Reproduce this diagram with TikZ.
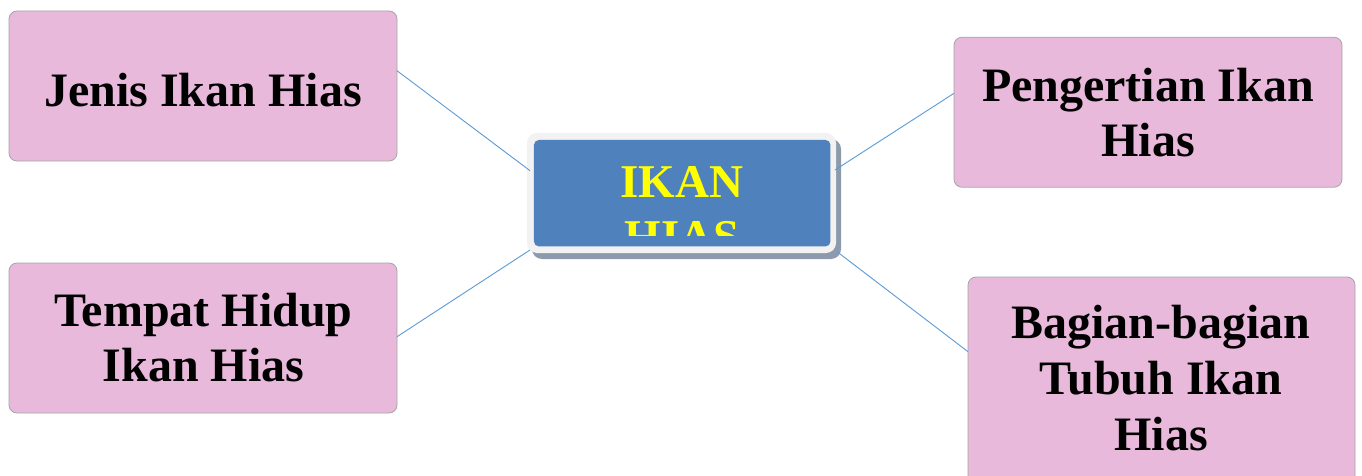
\documentclass[tikz,border=0pt]{standalone}
\usepackage{fontspec}
\setmainfont{Liberation Serif}
\usetikzlibrary{shadows}
\definecolor{pinkfill}{HTML}{E8B9DA}
\definecolor{pinkline}{HTML}{A6A6A6}
\definecolor{cblue}{HTML}{4F81BD}
\definecolor{cframecol}{HTML}{F2F2F2}
\definecolor{cshadow}{HTML}{8C9AAB}
\definecolor{linkblue}{HTML}{5B9BD5}
\definecolor{ctextcol}{HTML}{FFFF00}
\newcommand\leaffont{\fontsize{48}{55}\selectfont\bfseries}
\newcommand\leaffontb{\fontsize{48}{56}\selectfont\bfseries}
\newcommand\centerfont{\fontsize{47}{55}\selectfont\bfseries}
\begin{document}
\begin{tikzpicture}[x=1pt,y=-1pt,
  leaf/.style={draw=pinkline, line width=0.8pt, fill=pinkfill, rounded corners=8pt, inner sep=0pt, outer sep=0pt},
  leaftext/.style={anchor=base, inner sep=0pt, font=\leaffont, text=black},
  link/.style={draw=linkblue, line width=0.9pt},
  frame/.style={fill=cframecol, rounded corners=10pt, inner sep=0pt, outer sep=0pt,
    drop shadow={shadow xshift=5pt, shadow yshift=-6pt, fill=cshadow, opacity=1}},
  inner/.style={fill=cblue, rounded corners=5pt, inner sep=0pt, outer sep=0pt},
  ctext/.style={anchor=base, inner sep=0pt, font=\centerfont, text=ctextcol},
]
\useasboundingbox (0,0) rectangle (1362,476);
\clip (0,0) rectangle (1362,476);
\fill[white] (0,0) rectangle (1362,476);

% leaf boxes
\node[leaf, minimum width=388pt, minimum height=150pt] (jenis) at (203,86) {};
\node[leaftext] (jenisT) at (203,106.7) {\begin{tabular}[t]{@{}c@{}}Jenis Ikan Hias\end{tabular}};

\node[leaf, minimum width=388pt, minimum height=150pt] (tempat) at (203,338) {};
\node[leaftext] (tempatT) at (203.5,326.7) {\begin{tabular}[t]{@{}c@{}}Tempat Hidup\\Ikan Hias\end{tabular}};

\node[leaf, minimum width=388pt, minimum height=150pt] (pengertian) at (1148,112.2) {};
\node[leaftext] (pengertianT) at (1148,101.7) {\begin{tabular}[t]{@{}c@{}}Pengertian Ikan\\Hias\end{tabular}};

\node[leaf, minimum width=387pt, minimum height=213pt] (bagian) at (1161.5,383.5) {};
\node[leaftext, font=\leaffontb] (bagianT) at (1161,338) {\begin{tabular}[t]{@{}c@{}}Bagian-bagian\\Tubuh Ikan\\Hias\end{tabular}};

% central node
\node[frame, minimum width=309pt, minimum height=120pt] (cframe) at (681.5,193) {};
\node[inner, minimum width=296.5pt, minimum height=106.5pt] (cinner) at (682.2,193.2) {};
\begin{scope}
  \clip (534,140) rectangle (831,235);
  \node[ctext] (ctitle) at (682,197) {\begin{tabular}[t]{@{}c@{}}IKAN\\HIAS\end{tabular}};
\end{scope}

% connectors
\draw[link] ([yshift=15.3pt]jenis.east) -- ([shift={(3pt,22.3pt)}]cframe.west);
\draw[link] ([yshift=1.3pt]tempat.east) -- ([shift={(3pt,3pt)}]cframe.south west);
\draw[link] ([yshift=18.9pt]pengertian.west) -- ([shift={(-1pt,23pt)}]cframe.east);
\draw[link] ([yshift=31.8pt]bagian.west) -- ([shift={(1pt,1.3pt)}]cframe.south east);
\end{tikzpicture}
\end{document}
